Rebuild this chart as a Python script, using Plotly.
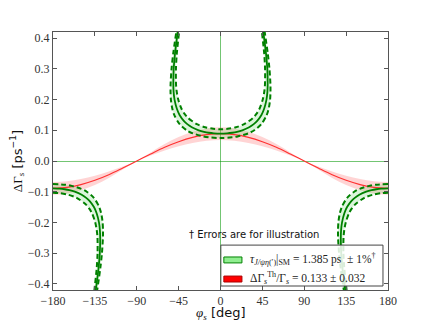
import plotly.graph_objects as go

# ---- theory band: DeltaGamma_s vs phi_s (red) ----
PHI_RED = [-180, -165, -150, -135, -120, -105, -90, -75, -60, -45, -30, -15, 0,
           15, 30, 45, 60, 75, 90, 105, 120, 135, 150, 165, 180]
RED_MID = [-0.089, -0.086, -0.077, -0.063, -0.045, -0.023, 0.0, 0.023, 0.045, 0.063, 0.077, 0.086, 0.089,
           0.086, 0.077, 0.063, 0.045, 0.023, 0.0, -0.023, -0.045, -0.063, -0.077, -0.086, -0.089]
RED_HI = [-0.110, -0.106, -0.095, -0.078, -0.055, -0.028, 0.0, 0.028, 0.055, 0.078, 0.095, 0.106, 0.110,
          0.106, 0.095, 0.078, 0.055, 0.028, 0.0, -0.028, -0.055, -0.078, -0.095, -0.106, -0.110]
RED_LO = [-0.068, -0.066, -0.059, -0.048, -0.034, -0.018, 0.0, 0.018, 0.034, 0.048, 0.059, 0.066, 0.068,
          0.066, 0.059, 0.048, 0.034, 0.018, 0.0, -0.018, -0.034, -0.048, -0.059, -0.066, -0.068]

# ---- effective lifetime contour (green), upper branch ----
UP_MID_PHI = [-45.1, -46.0, -48.9, -50.3, -50.7, -50.4, -49.4, -46.9, -44.0, -39.2, -35.7, -30.8, -23.4,
              -17.7, -12.6, -7.1, 0, 7.1, 12.6, 17.7, 23.4, 30.8, 35.7, 39.2, 44.0, 46.9, 49.4, 50.4,
              50.7, 50.3, 48.9, 46.0, 45.1]
UP_MID_DG = [0.44, 0.42, 0.35, 0.30, 0.25, 0.225, 0.20, 0.17, 0.15, 0.13, 0.12, 0.11, 0.10, 0.095,
             0.092, 0.090, 0.089, 0.090, 0.092, 0.095, 0.10, 0.11, 0.12, 0.13, 0.15, 0.17, 0.20, 0.225,
             0.25, 0.30, 0.35, 0.42, 0.44]
# -1% lifetime edge
UP_A_PHI = [-43.7, -44.5, -46.95, -47.9, -47.8, -47.0, -45.4, -41.9, -39.0, -34.8, -25.4, -16.6, -7.7, 0,
            7.7, 16.6, 25.4, 34.8, 39.0, 41.9, 45.4, 47.0, 47.8, 47.9, 46.95, 44.5, 43.7]
UP_A_DG = [0.44, 0.42, 0.35, 0.30, 0.25, 0.225, 0.20, 0.17, 0.155, 0.14, 0.12, 0.11, 0.105, 0.1035,
           0.105, 0.11, 0.12, 0.14, 0.155, 0.17, 0.20, 0.225, 0.25, 0.30, 0.35, 0.42, 0.44]
# +1% lifetime edge
UP_B_PHI = [-46.5, -47.5, -50.8, -52.6, -53.65, -53.7, -53.3, -52.1, -49.7, -43.9, -36.3, -29.8, -18.5,
            -12.3, 0, 12.3, 18.5, 29.8, 36.3, 43.9, 49.7, 52.1, 53.3, 53.7, 53.65, 52.6, 50.8, 47.5, 46.5]
UP_B_DG = [0.44, 0.42, 0.35, 0.30, 0.25, 0.225, 0.20, 0.175, 0.15, 0.12, 0.10, 0.09, 0.08, 0.077, 0.0749,
           0.077, 0.08, 0.09, 0.10, 0.12, 0.15, 0.175, 0.20, 0.225, 0.25, 0.30, 0.35, 0.42, 0.44]

# ---- lower branches (left at -180, right at +180) ----
LO_MID_PHI_L = [-180, -172.9, -167.4, -162.3, -156.6, -149.2, -144.3, -140.8, -136.0, -133.1, -130.6,
                -129.6, -129.3, -129.7, -131.1, -134.0, -134.9]
LO_MID_PHI_R = [180, 172.9, 167.4, 162.3, 156.6, 149.2, 144.3, 140.8, 136.0, 133.1, 130.6,
                129.6, 129.3, 129.7, 131.1, 134.0, 134.9]
LO_MID_DG = [-0.089, -0.090, -0.092, -0.095, -0.10, -0.11, -0.12, -0.13, -0.15, -0.17, -0.20, -0.225,
             -0.25, -0.30, -0.35, -0.42, -0.44]
LO_A_PHI_L = [-180, -172.3, -163.4, -154.6, -145.2, -141.0, -138.1, -134.6, -133.0, -132.2, -132.1,
              -133.05, -135.5, -136.3]
LO_A_PHI_R = [180, 172.3, 163.4, 154.6, 145.2, 141.0, 138.1, 134.6, 133.0, 132.2, 132.1,
              133.05, 135.5, 136.3]
LO_A_DG = [-0.1035, -0.105, -0.11, -0.12, -0.14, -0.155, -0.17, -0.20, -0.225, -0.25, -0.30, -0.35,
           -0.42, -0.44]
LO_B_PHI_L = [-180, -167.7, -161.5, -150.2, -143.7, -136.1, -130.3, -127.9, -126.7, -126.3, -126.35,
              -127.4, -129.2, -132.5, -133.5]
LO_B_PHI_R = [180, 167.7, 161.5, 150.2, 143.7, 136.1, 130.3, 127.9, 126.7, 126.3, 126.35,
              127.4, 129.2, 132.5, 133.5]
LO_B_DG = [-0.0749, -0.077, -0.08, -0.09, -0.10, -0.12, -0.15, -0.175, -0.20, -0.225, -0.25, -0.30,
           -0.35, -0.42, -0.44]

X_TICKS = [-180, -135, -90, -45, 0, 45, 90, 135, 180]
Y_TICKS = [-0.4, -0.3, -0.2, -0.1, 0.0, 0.1, 0.2, 0.3, 0.4]

GREEN = '#008000'
GREEN_FILL = 'rgba(110,215,110,0.25)'
RED = '#ff3030'
RED_FILL = 'rgba(255,60,60,0.22)'
SERIF = 'Liberation Serif'
SANS = 'DejaVu Sans'

fig = go.Figure()

# red band + line
fig.add_trace(go.Scatter(x=PHI_RED, y=RED_LO, mode='lines', line=dict(width=0, shape='spline'),
                         hoverinfo='skip', showlegend=False))
fig.add_trace(go.Scatter(x=PHI_RED, y=RED_HI, mode='lines', line=dict(width=0, shape='spline'),
                         fill='tonexty', fillcolor=RED_FILL, hoverinfo='skip', showlegend=False))

# green bands between dashed edges
bands = [
    (UP_A_PHI, UP_A_DG, UP_B_PHI, UP_B_DG),
    (LO_A_PHI_L, LO_A_DG, LO_B_PHI_L, LO_B_DG),
    (LO_A_PHI_R, LO_A_DG, LO_B_PHI_R, LO_B_DG),
]
for xa, ya, xb, yb in bands:
    fig.add_trace(go.Scatter(x=xa + xb[::-1], y=ya + yb[::-1], mode='lines',
                             line=dict(width=0, shape='spline', smoothing=0.8),
                             fill='toself', fillcolor=GREEN_FILL, hoverinfo='skip', showlegend=False))

fig.add_trace(go.Scatter(x=PHI_RED, y=RED_MID, mode='lines', line=dict(color=RED, width=1.1, shape='spline'),
                         showlegend=False))

# dashed edges
for xs, ys in [(UP_A_PHI, UP_A_DG), (UP_B_PHI, UP_B_DG), (LO_A_PHI_L, LO_A_DG), (LO_A_PHI_R, LO_A_DG),
               (LO_B_PHI_L, LO_B_DG), (LO_B_PHI_R, LO_B_DG)]:
    fig.add_trace(go.Scatter(x=xs, y=ys, mode='lines',
                             line=dict(color=GREEN, width=2, dash='5px,3px', shape='spline', smoothing=0.8),
                             showlegend=False))

# central lines
for xs, ys in [(UP_MID_PHI, UP_MID_DG), (LO_MID_PHI_L, LO_MID_DG), (LO_MID_PHI_R, LO_MID_DG)]:
    fig.add_trace(go.Scatter(x=xs, y=ys, mode='lines',
                             line=dict(color=GREEN, width=1.8, shape='spline', smoothing=0.8),
                             showlegend=False))

axis_common = dict(showline=True, linecolor='#555555', linewidth=1, mirror='ticks',
                   ticks='inside', ticklen=4, tickcolor='#555555', showgrid=False, automargin=False,
                   zeroline=True, zerolinecolor='rgba(0,150,0,0.55)', zerolinewidth=1,
                   tickfont=dict(family=SERIF, size=12, color='#333333'))

fig.update_xaxes(range=[-180, 180], tickvals=X_TICKS, **axis_common)
fig.update_yaxes(range=[-0.42, 0.42], tickvals=Y_TICKS, tickformat='.1f', **axis_common)

# legend drawn by hand (box, patches, labels)
shapes = [
    dict(type='rect', xref='paper', yref='paper', x0=0.501, x1=0.985, y0=0.0155, y1=0.174,
         line=dict(color='#444444', width=1), fillcolor='rgba(255,255,255,0.85)', layer='above'),
    dict(type='rect', xref='paper', yref='paper', x0=0.510, x1=0.564, y0=0.105, y1=0.128,
         line=dict(color=GREEN, width=1), fillcolor='#90ee90', layer='above'),
    dict(type='rect', xref='paper', yref='paper', x0=0.510, x1=0.564, y0=0.031, y1=0.054,
         line=dict(color='#aa0000', width=1), fillcolor='#ff0000', layer='above'),
]
annotations = [
    # axis titles
    dict(xref='paper', yref='paper', x=0.5, y=-0.090, xanchor='center', yanchor='middle', showarrow=False,
         text=f'<span style="font-family:{SERIF}"><i>φ</i><sub><i>s</i></sub></span> [deg]',
         font=dict(family=SANS, size=13, color='#111111')),
    dict(xref='paper', yref='paper', x=-0.107, y=0.5, xanchor='center', yanchor='middle', showarrow=False,
         textangle=-90,
         text=f'<span style="font-family:{SERIF}">ΔΓ<sub><i>s</i></sub></span> [ps<sup>−1</sup>]',
         font=dict(family=SANS, size=13, color='#111111')),
    # legend labels
    dict(xref='paper', yref='paper', x=0.582, y=0.120, xanchor='left', yanchor='middle', showarrow=False,
         text='<i>τ</i><sub><i>J/ψη</i>(′)</sub>|<sub>SM</sub> = 1.385 ps  ± 1%<sup>†</sup>',
         font=dict(family=SERIF, size=11.5, color='#222222')),
    dict(xref='paper', yref='paper', x=0.582, y=0.046, xanchor='left', yanchor='middle', showarrow=False,
         text='ΔΓ<sub><i>s</i></sub><sup>Th</sup>/Γ<sub><i>s</i></sub> = 0.133 ± 0.032',
         font=dict(family=SERIF, size=11.5, color='#222222')),
    dict(xref='paper', yref='paper', x=0.400, y=0.217, xanchor='left', yanchor='middle', showarrow=False,
         text='† Errors are for illustration', font=dict(family=SANS, size=10, color='#111111')),
]

fig.update_layout(width=430, height=323, margin=dict(l=53, r=42, t=32, b=33),
                  plot_bgcolor='white', paper_bgcolor='white', showlegend=False,
                  shapes=shapes, annotations=annotations)

# page body has a default 8px margin; drop it so the figure sits at the window origin
fig.write_html('out.html', config={'displayModeBar': False},
               post_script='document.body.style.margin = "0";')
